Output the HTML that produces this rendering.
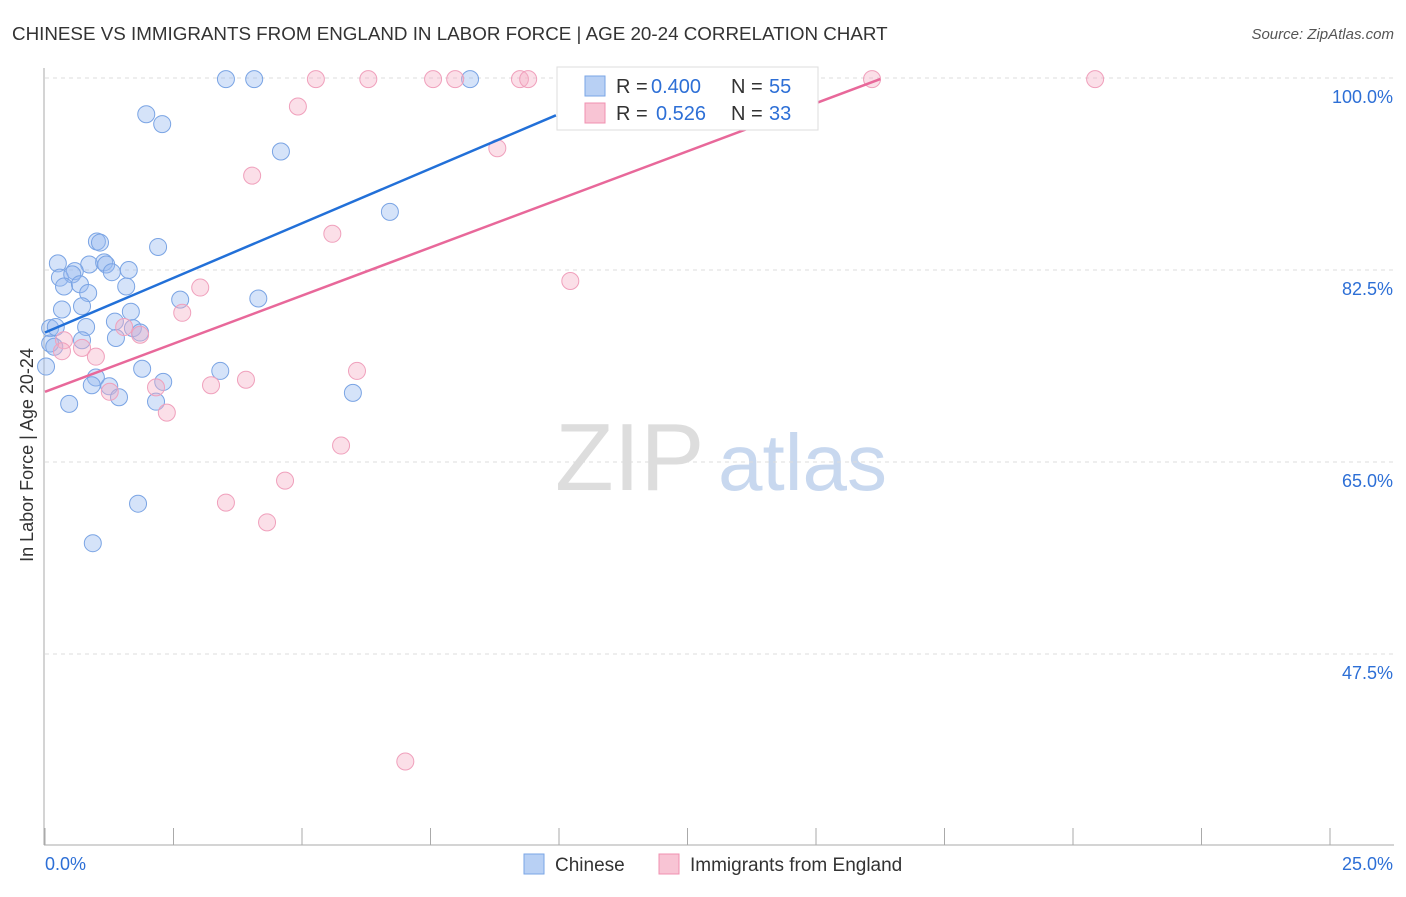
<!DOCTYPE html>
<html><head><meta charset="utf-8"><style>
body{margin:0;background:#fff;font-family:"Liberation Sans",sans-serif}
svg text{font-family:"Liberation Sans",sans-serif}
</style></head><body>
<svg width="1406" height="892" id="c">
<text x="12" y="40" font-size="18.8" fill="#333">CHINESE VS IMMIGRANTS FROM ENGLAND IN LABOR FORCE | AGE 20-24 CORRELATION CHART</text>
<text x="1394" y="39" font-size="15" fill="#555" text-anchor="end" font-style="italic">Source: ZipAtlas.com</text>
<text x="555" y="490" font-size="96" fill="#ddd" font-family="Liberation Serif">ZIP</text>
<text x="718" y="490" font-size="80" fill="#c8d8ef">atlas</text>
<text transform="translate(33,455) rotate(-90)" font-size="18" fill="#333" text-anchor="middle">In Labor Force | Age 20-24</text>
<g id="grid"></g><g id="pts"></g><g id="lines"></g>
<g>
<rect x="557" y="67" width="261" height="63" fill="#fff" stroke="#ddd"/>
<rect x="585" y="76" width="20" height="20" fill="#b8d0f4" stroke="#7aa6e6"/>
<rect x="585" y="103" width="20" height="20" fill="#f8c4d4" stroke="#f090b0"/>
<text x="616" y="93" font-size="20" fill="#333">R =</text>
<text x="651" y="93" font-size="20" fill="#2d6fd6">0.400</text>
<text x="731" y="93" font-size="20" fill="#333">N =</text>
<text x="769" y="93" font-size="20" fill="#2d6fd6">55</text>
<text x="616" y="120" font-size="20" fill="#333">R =</text>
<text x="656" y="120" font-size="20" fill="#2d6fd6">0.526</text>
<text x="731" y="120" font-size="20" fill="#333">N =</text>
<text x="769" y="120" font-size="20" fill="#2d6fd6">33</text>
</g>
<g>
<rect x="524" y="854" width="20" height="20" fill="#b8d0f4" stroke="#7aa6e6"/>
<text x="555" y="871" font-size="19" fill="#333">Chinese</text>
<rect x="659" y="854" width="20" height="20" fill="#f8c4d4" stroke="#f090b0"/>
<text x="690" y="871" font-size="19" fill="#333">Immigrants from England</text>
</g>
<text x="45" y="870" font-size="18" fill="#2d6fd6">0.0%</text>
<text x="1393" y="870" font-size="18" fill="#2d6fd6" text-anchor="end">25.0%</text>
</svg>
<script>
const yTicks=[100,82.5,65,47.5];
const yTickLabels=["100.0%","82.5%","65.0%","47.5%"];
const xTicks=[0,2.5,5,7.5,10,12.5,15,17.5,20,22.5,25];
const chineseX=[3.52,4.07,8.27,1.97,2.28,4.59,6.71,1.01,1.07,2.20,0.25,0.86,1.15,1.19,0.58,1.63,1.30,0.29,0.53,0.37,0.68,1.58,0.84,2.63,4.15,0.72,0.33,1.67,1.36,0.10,0.21,0.80,1.71,1.85,1.38,0.72,0.10,0.18,0.02,1.89,3.41,0.99,2.30,0.91,1.25,1.44,2.16,0.47,5.99,1.81,0.93];
const chineseY=[99.9,99.9,99.9,96.7,95.8,93.3,87.8,85.1,85.0,84.6,83.1,83.0,83.2,83.0,82.4,82.5,82.3,81.8,82.1,81.0,81.2,81.0,80.4,79.8,79.9,79.2,78.9,78.7,77.8,77.2,77.3,77.3,77.2,76.8,76.3,76.1,75.8,75.5,73.7,73.5,73.3,72.7,72.3,72.0,71.9,70.9,70.5,70.3,71.3,61.2,57.6];
const englandX=[5.27,6.29,7.55,7.98,9.24,9.40,16.09,20.43,4.92,8.80,4.03,5.59,10.22,3.02,2.67,1.54,1.85,0.37,0.72,0.33,0.99,6.07,3.91,3.23,2.16,1.26,2.37,5.76,4.67,3.52,4.32,7.01];
const englandY=[99.9,99.9,99.9,99.9,99.9,99.9,99.9,99.9,97.4,93.6,91.1,85.8,81.5,80.9,78.6,77.3,76.6,76.1,75.4,75.1,74.6,73.3,72.5,72.0,71.8,71.4,69.5,66.5,63.3,61.3,59.5,37.7];
const chineseLine=[[0,76.8],[9.94,96.6]];
const englandLine=[[0,71.4],[16.25,99.9]];
const NS="http://www.w3.org/2000/svg";
const X=v=>45+v/2.5*128.5, Y=v=>78+(100-v)/17.5*192;
function mk(t,a,p){const e=document.createElementNS(NS,t);for(const k in a)e.setAttribute(k,a[k]);p.appendChild(e);return e;}
const g=document.getElementById('grid');
yTicks.forEach((t,i)=>{
 const l=mk('line',{x1:45,x2:1394,y1:Y(t),y2:Y(t),stroke:'#ddd','stroke-dasharray':'4,4'},g);
 
 
 const tx=mk('text',{x:1393,y:Y(t)+25,'font-size':18,fill:'#2d6fd6','text-anchor':'end'},g);
 tx.textContent=yTickLabels[i];
 
 
});
const ax=mk('line',{x1:44,x2:44,y1:68,y2:845,stroke:'#aaa'},g);


const bx=mk('line',{x1:44,x2:1394,y1:845,y2:845,stroke:'#aaa'},g);


xTicks.forEach(t=>{
 const l=mk('line',{x1:X(t),x2:X(t),y1:828,y2:845,stroke:'#aaa'},g);
 
 
});
const p=document.getElementById('pts');
chineseX.forEach((x,i)=>{
 const c=mk('circle',{cx:X(x),cy:Y(chineseY[i]),r:8.5,fill:'rgba(150,186,240,0.4)',stroke:'#7aa4e4','stroke-width':1},p);
 
 
});
englandX.forEach((x,i)=>{
 const c=mk('circle',{cx:X(x),cy:Y(englandY[i]),r:8.5,fill:'rgba(246,176,198,0.4)',stroke:'#f0a0bc','stroke-width':1},p);
 
 
});
const L=document.getElementById('lines');
const l1=mk('line',{x1:X(chineseLine[0][0]),y1:Y(chineseLine[0][1]),x2:X(chineseLine[1][0]),y2:Y(chineseLine[1][1]),stroke:'#2270d8','stroke-width':2.5},L);


const l2=mk('line',{x1:X(englandLine[0][0]),y1:Y(englandLine[0][1]),x2:X(englandLine[1][0]),y2:Y(englandLine[1][1]),stroke:'#e8689a','stroke-width':2.5},L);


</script>
</body></html>
